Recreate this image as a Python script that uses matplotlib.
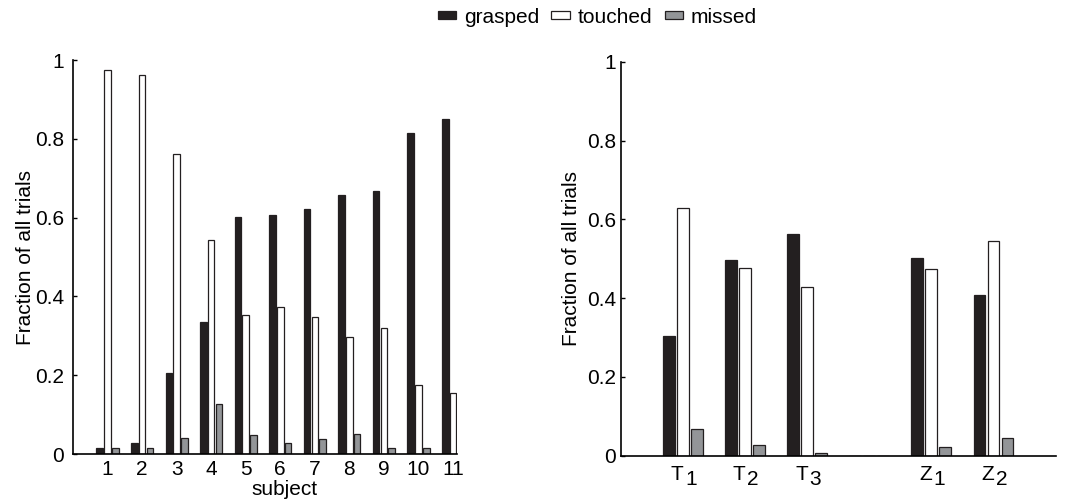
import matplotlib
matplotlib.use("Agg")
import matplotlib.pyplot as plt
import matplotlib.transforms as mtransforms
import numpy as np

plt.rcParams["font.family"] = ["Liberation Sans", "DejaVu Sans"]
plt.rcParams["font.size"] = 15

SERIES = ["grasped", "touched", "missed"]
FACE_COLORS = ["#231f20", "#ffffff", "#939598"]
EDGE_COLOR = "#231f20"

# left panel: per subject
subjects = [1, 2, 3, 4, 5, 6, 7, 8, 9, 10, 11]
subj_grasped = [0.015, 0.027, 0.205, 0.335, 0.602, 0.606, 0.621, 0.657, 0.668, 0.816, 0.850]
subj_touched = [0.976, 0.963, 0.761, 0.543, 0.354, 0.373, 0.347, 0.298, 0.321, 0.174, 0.154]
subj_missed = [0.015, 0.015, 0.040, 0.126, 0.048, 0.027, 0.038, 0.051, 0.015, 0.015, 0.0]

# right panel: per condition (position 4 is an empty slot)
cond_pos = [1, 2, 3, 4, 5, 6]
cond_base = ["T", "T", "T", "", "Z", "Z"]
cond_sub = ["1", "2", "3", "", "1", "2"]
cond_grasped = [0.304, 0.497, 0.564, 0.0, 0.503, 0.408]
cond_touched = [0.629, 0.477, 0.429, 0.0, 0.475, 0.546]
cond_missed = [0.068, 0.026, 0.008, 0.0, 0.022, 0.046]

BAR_W = 0.19
OFFSET = 0.225


def draw_groups(ax, x, series_values):
    x = np.asarray(x, dtype=float)
    handles = []
    for i, vals in enumerate(series_values):
        h = ax.bar(x + (i - 1) * OFFSET, vals, width=BAR_W,
                   color=FACE_COLORS[i], edgecolor=EDGE_COLOR,
                   linewidth=0.9, label=SERIES[i], clip_on=True)
        handles.append(h)
    return handles


def style_axes(ax, ypad):
    for side in ["top", "right"]:
        ax.spines[side].set_visible(False)
    ax.spines["left"].set_linewidth(1.2)
    ax.spines["bottom"].set_linewidth(1.2)
    ax.set_ylim(0, 1)
    ax.set_yticks([0, 0.2, 0.4, 0.6, 0.8, 1.0])
    ax.set_yticklabels(["0", "0.2", "0.4", "0.6", "0.8", "1"])
    ax.tick_params(axis="y", direction="in", length=3, width=1, pad=ypad)
    ax.tick_params(axis="x", length=0, pad=4)


fig = plt.figure(figsize=(10.76, 5.01), dpi=100)
ax1 = fig.add_axes([0.0678, 0.0938, 0.357, 0.786])
ax2 = fig.add_axes([0.577, 0.0904, 0.404, 0.786])

handles = draw_groups(ax1, subjects, [subj_grasped, subj_touched, subj_missed])
ax1.set_xlim(0, 11.115)
ax1.set_xticks(subjects)
ax1.set_xticklabels([str(s) for s in subjects])
style_axes(ax1, 6.5)
ax1.set_ylabel("Fraction of all trials")
ax1.yaxis.set_label_coords(-0.10, 0.5)
ax1.set_xlabel("subject")
ax1.xaxis.set_label_coords(0.551, -0.066)

draw_groups(ax2, cond_pos, [cond_grasped, cond_touched, cond_missed])
ax2.set_xlim(0, 7)
ax2.set_xticks(cond_pos)
ax2.set_xticklabels([])
style_axes(ax2, 3.5)
ax2.set_ylabel("Fraction of all trials")
ax2.yaxis.set_label_coords(-0.092, 0.5)

trans = mtransforms.blended_transform_factory(ax2.transData, ax2.transAxes)
for p, base, sub in zip(cond_pos, cond_base, cond_sub):
    if not base:
        continue
    ax2.annotate(base, xy=(p, 0), xycoords=trans, xytext=(0.5, -7),
                 textcoords="offset points", ha="right", va="top")
    ax2.annotate(sub, xy=(p, 0), xycoords=trans, xytext=(1.5, -10),
                 textcoords="offset points", ha="left", va="top")

fig.legend(handles=handles, loc="center", bbox_to_anchor=(0.555, 0.966),
           ncol=3, frameon=False, handlelength=0.9, handleheight=0.2,
           handletextpad=0.35, columnspacing=0.6, borderaxespad=0)

fig.savefig("out.png", dpi=100)
plt.close(fig)
